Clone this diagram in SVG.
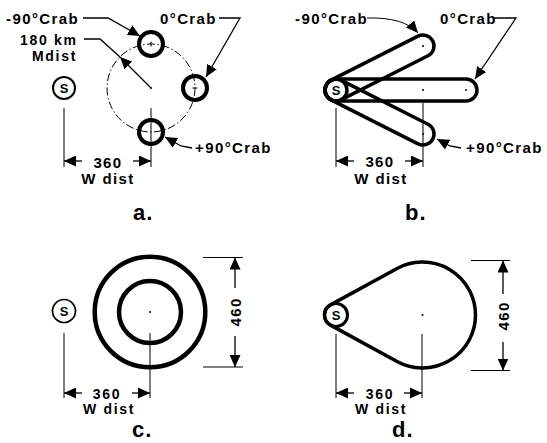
<svg xmlns="http://www.w3.org/2000/svg" width="547" height="443" viewBox="0 0 547 443">
<style>
.t{font-family:"Liberation Sans",Arial,Helvetica,sans-serif;font-weight:bold;font-size:15px;letter-spacing:1.4px;fill:#000}
.k{font-size:14px;letter-spacing:1.7px}
.m{text-anchor:middle}
.lbl{font-size:22px;letter-spacing:1px}
.s{font-size:13px;letter-spacing:0;text-anchor:middle}
.thin{stroke:#000;stroke-width:1;fill:none}
.ld{stroke:#000;stroke-width:1.3;fill:none;marker-end:url(#ah)}
.ring{stroke:#000;stroke-width:4;fill:none}
.cap{stroke:#000;stroke-width:3.5;fill:none}
.dash{stroke:#000;stroke-width:1;fill:none;stroke-dasharray:8 2.5 1.5 2.5}
.dot{fill:#000}
</style>
<defs>
<marker id="ah" markerWidth="12" markerHeight="11" refX="12" refY="5.5" orient="auto" markerUnits="userSpaceOnUse"><path d="M0,0 L12,5.5 L0,11 Z" fill="#000"/></marker>
</defs>
<rect width="547" height="443" fill="#fff"/>

<!-- Panel a -->
<g id="a-site"><circle cx="64" cy="88" r="11" stroke="#000" stroke-width="2" fill="none"/><text class="t s" x="64" y="92.5">S</text></g>
<g id="a-mdist"><circle class="dash" cx="151" cy="88" r="44"/><circle class="dot" cx="151" cy="88" r="1"/></g>
<g id="a-m90"><circle class="ring" cx="151" cy="44" r="12"/><line class="thin" x1="151" y1="41.5" x2="151" y2="46.5"/></g>
<g id="a-0"><circle class="ring" cx="195" cy="88" r="12"/><line class="thin" x1="192.5" y1="88" x2="197.5" y2="88"/></g>
<g id="a-p90"><circle class="ring" cx="151" cy="132" r="12"/></g>
<g id="a-texts">
<text class="t" x="6" y="23.5">-90°Crab</text>
<text class="t" x="160" y="23.5">0°Crab</text>
<text class="t k" x="20" y="44.5">180 km</text>
<text class="t k" x="32" y="60.5">Mdist</text>
<text class="t" x="195" y="153">+90°Crab</text>
<text class="t m" x="108" y="167.5">360</text>
<text class="t m" x="108" y="184">W dist</text>
<text class="t lbl" x="133" y="220">a.</text>
</g>

<!-- Panel b -->
<g id="b-caps">
<rect class="cap" x="-11" y="-11" width="119.5" height="22" rx="11" transform="translate(336 90) rotate(-26.83)"/>
<rect class="cap" x="-11" y="-11" width="152" height="22" rx="11" transform="translate(336 90)"/>
<rect class="cap" x="-11" y="-11" width="119.5" height="22" rx="11" transform="translate(336 90) rotate(26.83)"/>
<circle class="dot" cx="423" cy="46" r="1"/><circle class="dot" cx="423" cy="90" r="1"/><circle class="dot" cx="466" cy="90" r="1"/><circle class="dot" cx="423" cy="134" r="1"/>
</g>
<g id="b-site"><circle cx="336" cy="90" r="11" stroke="#000" stroke-width="3.5" fill="none"/><text class="t s" x="336" y="94.5">S</text></g>
<g id="b-texts">
<text class="t" x="295" y="23.5">-90°Crab</text>
<text class="t" x="440" y="23.5">0°Crab</text>
<text class="t" x="466" y="153">+90°Crab</text>
<text class="t m" x="380" y="167">360</text>
<text class="t m" x="381" y="184">W dist</text>
<text class="t lbl" x="405" y="220">b.</text>
</g>

<!-- Panel c -->
<g id="c-site"><circle cx="64" cy="311" r="11.5" stroke="#000" stroke-width="1.7" fill="none"/><text class="t s" x="64" y="315.5">S</text></g>
<g id="c-rings"><circle cx="150" cy="312" r="55.3" stroke="#000" stroke-width="4.5" fill="none"/><circle cx="150" cy="312" r="31" stroke="#000" stroke-width="4.5" fill="none"/><circle class="dot" cx="150" cy="312" r="1"/></g>
<g id="c-texts">
<text class="t k m" x="107" y="398.5">360</text>
<text class="t k m" x="109" y="413.5">W dist</text>
<text class="t m" transform="translate(240.5 312) rotate(-90)">460</text>
<text class="t lbl" x="132" y="437">c.</text>
</g>

<!-- Panel d -->
<g id="d-drop"><path class="cap" d="M330.48,304.91 L397.07,268.5 A53,53 0 1 1 397.07,361.5 L330.48,325.09 A11.5,11.5 0 0 1 330.48,304.91 Z"/><circle class="dot" cx="422.5" cy="315" r="1"/></g>
<g id="d-site"><circle cx="336" cy="315" r="11.5" stroke="#000" stroke-width="3" fill="none"/><text class="t s" x="336" y="319.5">S</text></g>
<g id="d-texts">
<text class="t k m" x="380" y="398.5">360</text>
<text class="t k m" x="381" y="413.5">W dist</text>
<text class="t m" transform="translate(508.5 316) rotate(-90)">460</text>
<text class="t lbl" x="392" y="437">d.</text>
</g>

<g id="connectors">
<!-- a leaders -->
<polyline class="ld" points="83,18 108,18 140,36"/>
<polyline class="ld" points="219,18 240,18 206,77"/>
<polyline class="thin" style="stroke-width:1.3" points="84,39 100,39 120,57"/>
<line class="ld" x1="151" y1="88" x2="120" y2="57"/>
<polyline class="ld" points="192,148 181,146 165,137"/>
<!-- a dims -->
<line class="thin" x1="64" y1="108" x2="64" y2="167"/>
<line class="thin" x1="151" y1="108" x2="151" y2="167"/>
<line class="ld" x1="82" y1="161" x2="64" y2="161"/>
<line class="ld" x1="133" y1="161" x2="151" y2="161"/>
<!-- b leaders -->
<path class="ld" style="stroke-width:1" d="M367,18 Q404,17 418,33"/>
<polyline class="ld" points="493,18 516,18 475,79"/>
<polyline class="ld" points="461,148 450,146 437,139"/>
<!-- b dims -->
<line class="thin" x1="336" y1="108" x2="336" y2="167"/>
<line class="thin" x1="423" y1="103" x2="423" y2="167"/>
<line class="ld" x1="354" y1="161" x2="336" y2="161"/>
<line class="ld" x1="405" y1="161" x2="423" y2="161"/>
<!-- c dims -->
<line class="thin" x1="64" y1="333" x2="64" y2="398"/>
<line class="thin" x1="150" y1="333" x2="150" y2="398"/>
<line class="ld" x1="82" y1="393" x2="64" y2="393"/>
<line class="ld" x1="132" y1="393" x2="150" y2="393"/>
<line class="thin" x1="203" y1="257.5" x2="243" y2="257.5"/>
<line class="thin" x1="203" y1="367" x2="243" y2="367"/>
<line class="ld" x1="235" y1="288" x2="235" y2="257.5"/>
<line class="ld" x1="235" y1="336" x2="235" y2="367"/>
<!-- d dims -->
<line class="thin" x1="336" y1="334" x2="336" y2="398"/>
<line class="thin" x1="422" y1="334" x2="422" y2="398"/>
<line class="ld" x1="354" y1="393" x2="336" y2="393"/>
<line class="ld" x1="404" y1="393" x2="422" y2="393"/>
<line class="thin" x1="471" y1="260.5" x2="510" y2="260.5"/>
<line class="thin" x1="471" y1="370.5" x2="510" y2="370.5"/>
<line class="ld" x1="503" y1="294" x2="503" y2="260.5"/>
<line class="ld" x1="503" y1="342" x2="503" y2="370.5"/>
</g>
</svg>
